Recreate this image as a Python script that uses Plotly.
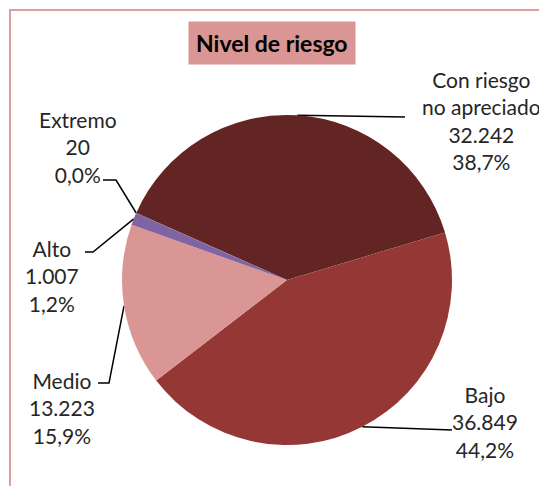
import math
import plotly.graph_objects as go

# datos
categorias = ["Con riesgo no apreciado", "Bajo", "Medio", "Alto", "Extremo"]
etiquetas = ["Con riesgo<br>no apreciado", "Bajo", "Medio", "Alto", "Extremo"]
valores = [32242, 36849, 13223, 1007, 20]
colores = ["#632523", "#953735", "#D99694", "#8064A2", "#4BACC6"]

# la pagina tiene 8px de margen en el body: se dibuja en 539x478 y los ejes
# ocultos van en coordenadas de pantalla (8..547, 8..486)
OFF = 8
W, H = 547 - OFF, 486 - OFF
cx, cy, R = 287, 280, 165
ROT = 294
FONT = "Lato"
TXT = "#262626"

# posicion del texto (centro) y codo de la linea guia, en pixeles de pantalla
pos_texto = {
    "Con riesgo no apreciado": dict(x=481, y=120, fin=(405, 117), codo=(405, 117)),
    "Bajo": dict(x=485, y=422, fin=(452, 430), codo=(452, 430)),
    "Medio": dict(x=62, y=408, fin=(98, 383), codo=(109, 383)),
    "Alto": dict(x=52, y=276, fin=(85, 252), codo=(93, 252)),
    "Extremo": dict(x=78, y=147, fin=(103, 180), codo=(116, 180)),
}

total = sum(valores)


def fmt_num(v):
    return f"{v:,}".replace(",", ".")


def fmt_pct(v):
    return f"{100 * v / total:.1f}".replace(".", ",") + "%"


fig = go.Figure()
fig.add_trace(go.Pie(labels=categorias, values=valores, sort=False, direction="clockwise",
                     rotation=ROT, marker=dict(colors=colores, line=dict(width=0)),
                     textinfo="none", hoverinfo="label+value+percent", showlegend=False,
                     domain=dict(x=[(cx - R - OFF) / W, (cx + R - OFF) / W],
                                 y=[1 - (cy + R - OFF) / H, 1 - (cy - R - OFF) / H])))

# lineas guia y etiquetas
ang = ROT
for cat, et, v in zip(categorias, etiquetas, valores):
    span = 360 * v / total
    mid = math.radians(ang + span / 2)
    ang += span
    px, py = cx + R * math.sin(mid), cy - R * math.cos(mid)
    p = pos_texto[cat]
    fig.add_trace(go.Scatter(x=[p["fin"][0], p["codo"][0], px], y=[p["fin"][1], p["codo"][1], py],
                             mode="lines", line=dict(color="black", width=1.5),
                             hoverinfo="skip", showlegend=False))
    fig.add_annotation(x=p["x"], y=p["y"], xref="x", yref="y", showarrow=False,
                       text=f"{et}<br>{fmt_num(v)}<br>{fmt_pct(v)}", align="center",
                       font=dict(family=FONT, size=21, color=TXT))

# titulo
fig.add_annotation(x=272, y=43, xref="x", yref="y", showarrow=False,
                   text="<b>Nivel de riesgo</b>", bgcolor="#D99694", borderpad=7,
                   font=dict(family=FONT, size=23, color="black"))

# marco
fig.add_shape(type="rect", xref="x", yref="y", x0=10, y0=10, x1=600, y1=600,
              line=dict(color="#DDA0A0", width=2), layer="below")

fig.update_xaxes(range=[OFF, OFF + W], visible=False, fixedrange=True)
fig.update_yaxes(range=[OFF + H, OFF], visible=False, fixedrange=True)
fig.update_layout(width=W, height=H, margin=dict(l=0, r=0, t=0, b=0),
                  paper_bgcolor="white", plot_bgcolor="rgba(0,0,0,0)")

fig.write_html("out.html")
